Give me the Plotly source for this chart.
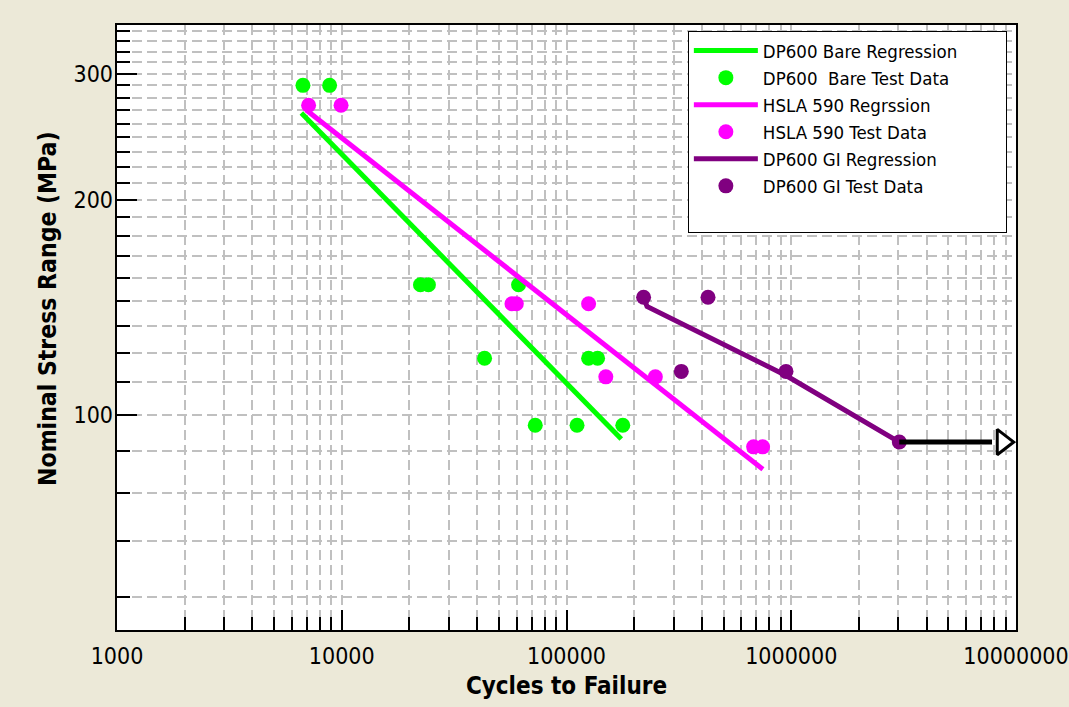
import math
import plotly.graph_objects as go

# ---------------- data ----------------
bare_x = [6720, 8830, 22400, 24300, 61200, 43200, 125400, 137500, 72600, 111400, 178000]
bare_y = [289, 289, 152, 152, 152, 120, 120, 120, 96.7, 96.7, 96.7]
bare_reg_x = [6610, 175300]
bare_reg_y = [264.4, 92.5]

hsla_x = [7120, 9930, 57200, 59800, 125400, 149600, 248500, 680000, 745600]
hsla_y = [271, 271, 143, 143, 143, 113, 113, 90.2, 90.2]
hsla_reg_x = [6950, 748000]
hsla_reg_y = [267, 83.9]

gi_x = [220300, 426200, 324200, 947600, 3025000]
gi_y = [146, 146, 115, 115, 91.6]
gi_reg_x = [220300, 228200, 947600, 3025000]
gi_reg_y = [146, 141.8, 113.5, 91.6]

runout_x = [3025000, 7820000]
runout_y = [91.6, 91.6]
runout_head_x = [8730000]
runout_head_y = [91.6]

x_major = [1e3, 1e4, 1e5, 1e6, 1e7]
x_major_text = ["1000", "10000", "100000", "1000000", "10000000"]
x_minor = [m * 10 ** e for e in range(3, 7) for m in range(1, 10)] + [1e7]
y_major = [100, 200, 300]
y_major_text = ["100", "200", "300"]
y_minor = [k * 100 / 9 for k in range(5, 32)]

X_RANGE = [3, 7]
Y_RANGE = [math.log10(50), math.log10(351)]

GREEN = "#00FF00"
MAGENTA = "#FF00FF"
PURPLE = "#800080"
BG = "#ECE9D8"
FONT = "DejaVu Sans Condensed, DejaVu Sans, sans-serif"

fig = go.Figure()

fig.add_trace(go.Scatter(x=bare_reg_x, y=bare_reg_y, mode="lines",
                         line=dict(color=GREEN, width=5), name="DP600 Bare Regression"))
fig.add_trace(go.Scatter(x=bare_x, y=bare_y, mode="markers",
                         marker=dict(color=GREEN, size=15), name="DP600\u00a0 Bare Test Data"))
fig.add_trace(go.Scatter(x=hsla_reg_x, y=hsla_reg_y, mode="lines",
                         line=dict(color=MAGENTA, width=5), name="HSLA 590 Regrssion"))
fig.add_trace(go.Scatter(x=hsla_x, y=hsla_y, mode="markers",
                         marker=dict(color=MAGENTA, size=15), name="HSLA 590 Test Data"))
fig.add_trace(go.Scatter(x=gi_reg_x, y=gi_reg_y, mode="lines",
                         line=dict(color=PURPLE, width=5), name="DP600 GI Regression"))
fig.add_trace(go.Scatter(x=gi_x, y=gi_y, mode="markers",
                         marker=dict(color=PURPLE, size=15), name="DP600 GI Test Data"))
# run-out arrow
fig.add_trace(go.Scatter(x=runout_x, y=runout_y, mode="lines",
                         line=dict(color="black", width=5), showlegend=False, hoverinfo="skip"))
fig.add_trace(go.Scatter(x=runout_head_x, y=runout_head_y, mode="markers",
                         marker=dict(symbol="triangle-right", size=22, color="white",
                                     line=dict(color="black", width=3)),
                         showlegend=False, hoverinfo="skip"))
# spacer legend row (blank area at the bottom / right of the legend box)
fig.add_trace(go.Scatter(x=[None], y=[None], mode="markers",
                         marker=dict(color="rgba(0,0,0,0)"), name="\u00a0" * 45,
                         hoverinfo="skip"))
# dummy trace for the overlay axes carrying the major ticks
fig.add_trace(go.Scatter(x=[1e4], y=[100], xaxis="x2", yaxis="y2", mode="markers",
                         marker=dict(opacity=0), showlegend=False, hoverinfo="skip"))

grid = dict(showgrid=True, gridcolor="#C0C0C0", gridwidth=2, griddash="10px,5px")

fig.update_layout(
    width=1069, height=707,
    paper_bgcolor=BG, plot_bgcolor="white",
    margin=dict(l=117, r=53, t=25, b=77),
    font=dict(family=FONT, color="black"),
    xaxis=dict(type="log", range=X_RANGE, tickmode="array", tickvals=x_minor,
               ticktext=[""] * len(x_minor), ticks="inside", ticklen=13, tickwidth=2,
               tickcolor="black", showline=True, linecolor="black", linewidth=2,
               mirror=True, zeroline=False, automargin=False, **grid),
    yaxis=dict(type="log", range=Y_RANGE, tickmode="array", tickvals=y_minor,
               ticktext=[""] * len(y_minor), ticks="inside", ticklen=13, tickwidth=2,
               tickcolor="black", showline=True, linecolor="black", linewidth=2,
               mirror=True, zeroline=False, automargin=False, **grid),
    xaxis2=dict(type="log", range=X_RANGE, overlaying="x", anchor="y2", side="bottom",
                tickmode="array", tickvals=x_major, ticktext=x_major_text,
                ticks="inside", ticklen=20, tickwidth=2, tickcolor="black",
                showgrid=False, showline=False, zeroline=False, automargin=False,
                tickfont=dict(size=23), ticklabelstandoff=10,
                title=dict(text="<b>Cycles to Failure</b>", font=dict(size=24), standoff=9)),
    yaxis2=dict(type="log", range=Y_RANGE, overlaying="y", anchor="x2", side="left",
                tickmode="array", tickvals=y_major, ticktext=y_major_text,
                ticks="inside", ticklen=20, tickwidth=2, tickcolor="black",
                showgrid=False, showline=False, zeroline=False, automargin=False,
                tickfont=dict(size=23), ticklabelstandoff=3),
    legend=dict(x=0.635, y=0.99, xanchor="left", yanchor="top",
                bgcolor="white", bordercolor="black", borderwidth=1,
                font=dict(size=18.5), tracegroupgap=0, itemwidth=64),
    showlegend=True,
    annotations=[dict(text="<b>Nominal Stress Range (MPa)</b>", textangle=-90,
                      xref="paper", yref="paper", x=-0.0768, y=0.5306,
                      xanchor="center", yanchor="middle", showarrow=False,
                      font=dict(size=24.5))],
)

fig.write_html("out.html")
